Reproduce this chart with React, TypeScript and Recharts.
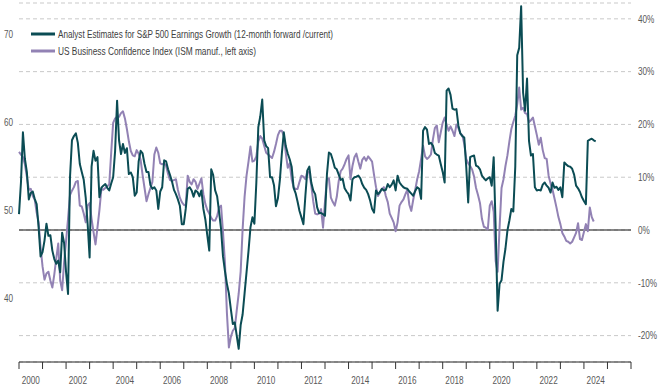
import React from "react";
import {
    LineChart,
    Line,
    XAxis,
    YAxis,
    CartesianGrid,
    ReferenceLine,
} from "recharts";

const startYear = 2000;

// US Business Confidence Index (ISM manufacturing), monthly from Jan 2000
const ism = [
    56.6, 56.3, 56.0, 55.2, 53.8, 52.3, 52.4, 51.6, 51.2, 49.7, 48.6, 45.8, // 2000
    43.6, 42.1, 42.8, 43.0, 42.0, 41.2, 42.7, 44.5, 46.2, 42.0, 40.9, 44.1, // 2001
    46.5, 49.0, 51.7, 52.2, 52.6, 53.2, 53.3, 50.5, 50.4, 49.6, 48.6, 50.5, // 2002
    50.8, 49.0, 47.5, 46.1, 48.0, 50.0, 52.4, 52.3, 52.5, 52.7, 52.9, 56.5, // 2003
    59.9, 60.4, 60.6, 60.6, 61.0, 61.2, 60.4, 59.2, 57.8, 56.7, 56.2, 56.1, // 2004
    56.8, 56.4, 55.7, 54.0, 52.5, 51.0, 51.8, 52.5, 53.2, 56.3, 57.1, 56.5, // 2005
    55.3, 55.2, 55.3, 55.0, 54.1, 53.4, 53.3, 53.4, 53.5, 52.3, 51.4, 50.9, // 2006
    50.6, 50.5, 53.9, 53.2, 52.9, 53.5, 53.2, 52.4, 53.0, 53.6, 51.8, 50.7, // 2007
    50.0, 49.6, 49.1, 48.8, 48.8, 49.3, 50.3, 50.5, 47.5, 44.0, 38.3, 34.4, // 2008
    35.6, 36.3, 36.6, 38.6, 40.5, 43.0, 47.8, 51.5, 53.9, 55.5, 57.2, 55.5, // 2009
    55.6, 56.1, 57.8, 58.4, 58.1, 57.3, 56.5, 56.3, 56.1, 55.9, 56.6, 57.5, // 2010
    58.5, 59.0, 59.0, 58.4, 56.5, 54.8, 55.3, 53.5, 52.6, 52.4, 52.4, 53.2, // 2011
    53.9, 53.8, 53.5, 54.4, 54.2, 52.8, 51.0, 49.6, 49.5, 49.6, 50.1, 48.0, // 2012
    51.0, 53.5, 53.6, 51.4, 50.9, 50.5, 51.5, 53.3, 54.4, 54.7, 55.2, 55.8, // 2013
    56.2, 53.5, 55.0, 56.0, 56.4, 55.5, 54.7, 55.7, 56.0, 55.6, 56.1, 55.8, // 2014
    55.5, 54.0, 52.6, 51.6, 52.0, 52.4, 52.6, 51.6, 50.9, 49.6, 49.1, 48.6, // 2015
    47.6, 48.6, 50.5, 50.9, 51.2, 51.8, 52.3, 50.6, 49.9, 51.2, 52.3, 53.5, // 2016
    54.4, 55.8, 57.3, 56.1, 55.8, 56.0, 56.3, 58.0, 59.3, 59.6, 57.7, 58.8, // 2017
    59.9, 60.5, 59.7, 59.0, 59.5, 59.0, 58.4, 59.7, 59.3, 58.7, 58.5, 57.5, // 2018
    55.8, 55.3, 55.0, 54.6, 53.8, 52.5, 51.7, 50.8, 49.0, 48.1, 48.0, 47.8, // 2019
    50.5, 51.0, 49.8, 44.2, 43.0, 48.0, 52.5, 53.5, 55.0, 56.2, 57.8, 59.2, // 2020
    60.0, 60.7, 62.0, 63.9, 61.4, 61.6, 61.0, 60.9, 60.0, 60.2, 60.5, 59.5, // 2021
    58.5, 57.4, 58.2, 56.8, 55.9, 55.8, 53.9, 53.0, 52.3, 51.3, 50.3, 49.2, // 2022
    48.4, 47.4, 47.0, 46.5, 46.4, 46.2, 46.4, 46.9, 47.4, 48.5, 46.7, 46.6, // 2023
    47.5, 48.4, 47.6, 50.3, 49.2, 48.7, null, // 2024
];

// Analyst estimates for S&P 500 earnings growth (12m fwd / current), %
const earnings = [
    3.0, 9.0, 18.5, 13.5, 11.0, 5.8, 7.0, 7.3, 5.9, 4.9, 0.5, -5.0, // 2000
    -4.2, -2.0, 1.2, -1.1, -1.0, -3.9, -5.5, -6.4, -5.8, -8.0, -0.5, -2.5, // 2001
    -8.0, -12.1, 10.0, 17.0, 17.8, 18.3, 16.5, 12.5, 11.0, 9.5, 6.2, 1.1, // 2002
    -5.2, 12.0, 15.0, 13.1, 13.8, 6.2, 8.0, 8.4, 8.7, 8.0, 7.5, 8.8, // 2003
    10.0, 15.0, 24.5, 17.0, 14.4, 16.3, 14.6, 15.5, 10.6, 10.9, 10.0, 6.5, // 2004
    7.1, 13.0, 15.0, 14.5, 12.5, 11.0, 11.0, 8.5, 7.8, 8.1, 7.5, 4.0, // 2005
    7.3, 8.1, 13.2, 13.0, 11.5, 10.4, 9.2, 7.6, 6.8, 5.8, 4.6, 1.1, // 2006
    1.1, 4.0, 7.8, 8.1, 7.5, 6.3, 7.5, 7.2, 6.4, 7.5, 4.0, 2.0, // 2007
    -1.0, -3.9, 11.5, 10.4, 7.5, 6.4, 3.5, 0.2, -5.0, -7.8, -10.2, -12.0, // 2008
    -15.0, -17.8, -17.5, -20.0, -22.5, -18.0, -16.0, -12.0, -8.0, -4.0, 0.5, 2.4, // 2009
    1.2, 9.0, 19.5, 21.5, 24.7, 17.0, 15.9, 15.5, 10.0, 10.0, 8.5, 4.5, // 2010
    6.0, 9.5, 14.5, 18.5, 15.9, 14.5, 13.4, 12.0, 8.0, 7.0, 5.4, 3.6, // 2011
    2.4, 1.1, 6.5, 11.3, 12.0, 9.0, 7.5, 6.8, 4.3, 3.2, 3.2, 3.0, // 2012
    2.7, 10.6, 14.7, 14.4, 13.2, 11.8, 11.5, 10.5, 9.5, 9.7, 7.9, 7.3, // 2013
    6.8, 5.6, 9.6, 10.0, 10.1, 10.3, 9.8, 8.7, 8.0, 7.6, 6.8, 5.6, // 2014
    4.0, 3.3, 7.5, 6.8, 7.2, 7.8, 7.5, 7.6, 8.7, 8.1, 8.6, 9.4, // 2015
    7.5, 10.3, 9.0, 8.5, 8.1, 7.9, 7.8, 7.3, 6.9, 6.5, 7.4, 8.1, // 2016
    7.8, 5.9, 18.8, 19.5, 19.0, 16.3, 16.5, 16.0, 14.6, 14.3, 14.1, 12.5, // 2017
    11.0, 9.0, 26.4, 26.8, 25.6, 23.0, 22.8, 22.9, 19.8, 18.3, 17.8, 17.5, // 2018
    12.0, 5.2, 13.8, 14.0, 14.1, 12.2, 12.0, 11.5, 10.3, 9.8, 9.4, 9.8, // 2019
    10.0, 8.4, 13.8, 0.5, -15.3, -10.2, -9.5, -6.0, -3.5, -0.1, 1.8, 4.0, // 2020
    3.5, 12.0, 33.1, 34.5, 42.4, 26.0, 22.6, 28.7, 16.9, 14.1, 14.4, 8.1, // 2021
    7.5, 7.6, 7.5, 8.6, 9.0, 8.4, 8.0, 7.1, 9.0, 8.0, 8.2, 7.6, // 2022
    8.1, 6.2, 12.8, 12.4, 12.1, 12.0, 11.6, 10.5, 8.4, 7.9, 7.2, 6.2, // 2023
    5.5, 4.9, 16.9, 17.1, 17.3, 17.0, 16.8, // 2024
];

const yearLabels = [2000, 2002, 2004, 2006, 2008, 2010, 2012, 2014, 2016, 2018, 2020, 2022, 2024];
const leftTicks = [40, 50, 60, 70];
const rightTicks = [-20, -10, 0, 10, 20, 30, 40];
const seriesNames = [
    "Analyst Estimates for S&P 500 Earnings Growth (12-month forward /current)",
    "US Business Confidence Index (ISM manuf., left axis)",
];

const TEAL = "#0b4c54";
const PURPLE = "#9282b4";
const FONT = "'Liberation Sans', Arial, sans-serif";

const rows = earnings.map((e, i) => ({
    t: startYear + i / 12,
    eps: e,
    ism: ism[i] ?? null,
}));

// tick marks at each year boundary, labels in the middle of even years
const yearMarks = Array.from({ length: 27 }, (_, i) => startYear + i);
const xTicks = [...yearMarks, ...yearLabels.map((y) => y + 0.5)].sort((a, b) => a - b);

// condensed label, roughly like the narrow office font of the original
const Narrow = ({ x, y, anchor, children }: any) => (
    <g transform={`translate(${x},${y})`}>
        <text transform="scale(0.78,1)" textAnchor={anchor} fontSize={10.5} fill="#595959" fontFamily={FONT}>
            {children}
        </text>
    </g>
);

const XTick = (props: any) => {
    const { x, y, payload } = props;
    const v = payload.value;
    if (Number.isInteger(v)) {
        return <line x1={x} x2={x} y1={y - 7} y2={y} stroke="#333" strokeWidth={1} />;
    }
    return (
        <Narrow x={x} y={y + 15} anchor="middle">
            {Math.floor(v)}
        </Narrow>
    );
};

const YTick = (props: any) => {
    const { x, y, payload, textAnchor, suffix } = props;
    return (
        <Narrow x={x} y={y + 3.8} anchor={textAnchor}>
            {`${payload.value}${suffix || ""}`}
        </Narrow>
    );
};

export default function App() {
    return (
        <div style={{ position: "absolute", left: 0, top: 0, width: 661, height: 390, background: "#fff" }}>
            <LineChart width={661} height={390} data={rows} margin={{ top: 3, right: 0, left: 0, bottom: 0 }}>
                <CartesianGrid yAxisId="right" vertical={false} stroke="#c9c9c9" strokeDasharray="4 3" />
                <XAxis
                    dataKey="t"
                    type="number"
                    domain={[2000, 2026]}
                    ticks={xTicks}
                    interval={0}
                    height={28}
                    tickSize={7}
                    tickMargin={0}
                    tickLine={false}
                    axisLine={{ stroke: "#222" }}
                    tick={(p: any) => <XTick {...p} />}
                />
                <YAxis
                    yAxisId="left"
                    orientation="left"
                    domain={[32.75, 73.5]}
                    ticks={leftTicks}
                    interval={0}
                    width={19}
                    tickSize={5}
                    tickMargin={1}
                    axisLine={false}
                    tickLine={false}
                    tick={(p: any) => <YTick {...p} />}
                />
                <YAxis
                    yAxisId="right"
                    orientation="right"
                    domain={[-25, 43]}
                    ticks={rightTicks}
                    interval={0}
                    width={30}
                    tickSize={5}
                    tickMargin={2}
                    axisLine={false}
                    tickLine={false}
                    tick={(p: any) => <YTick {...p} suffix="%" />}
                />
                <ReferenceLine yAxisId="right" y={0} stroke="#111" strokeWidth={1.2} />
                <Line
                    yAxisId="left"
                    type="linear"
                    dataKey="ism"
                    stroke={PURPLE}
                    strokeWidth={2}
                    dot={false}
                    strokeLinejoin="round"
                    isAnimationActive={false}
                />
                <Line
                    yAxisId="right"
                    type="linear"
                    dataKey="eps"
                    stroke={TEAL}
                    strokeWidth={2}
                    dot={false}
                    strokeLinejoin="round"
                    isAnimationActive={false}
                />
            </LineChart>
            <svg
                width={661}
                height={390}
                style={{ position: "absolute", left: 0, top: 0, pointerEvents: "none" }}
                fontFamily={FONT}
            >
                <line x1={31} x2={55} y1={34} y2={34} stroke={TEAL} strokeWidth={3} />
                <text x={58} y={38} fontSize={10.5} fill="#404040" textLength={275} lengthAdjust="spacingAndGlyphs">
                    {seriesNames[0]}
                </text>
                <line x1={31} x2={55} y1={51} y2={51} stroke={PURPLE} strokeWidth={3} />
                <text x={58} y={55} fontSize={10.5} fill="#404040" textLength={198} lengthAdjust="spacingAndGlyphs">
                    {seriesNames[1]}
                </text>
            </svg>
        </div>
    );
}
